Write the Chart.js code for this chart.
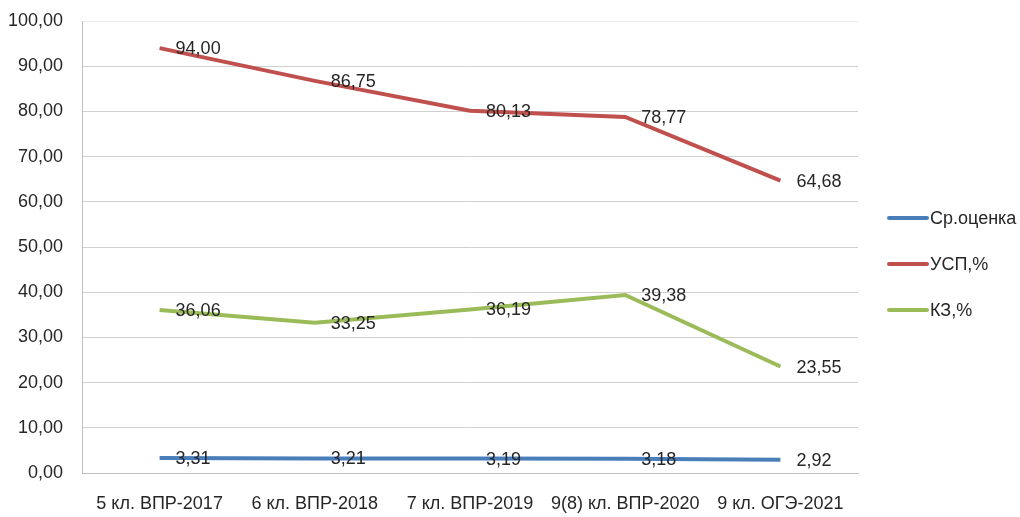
<!DOCTYPE html>
<html>
<head>
<meta charset="utf-8">
<script src="https://cdn.jsdelivr.net/npm/chart.js@4/dist/chart.umd.min.js"></script>
<style>
html,body{margin:0;padding:0;background:#fff;}
canvas{display:block;}
</style>
</head>
<body>
<canvas id="c" width="1020" height="517"></canvas>
<script>
const categories = ["5 кл. ВПР-2017", "6 кл. ВПР-2018", "7 кл. ВПР-2019", "9(8) кл. ВПР-2020", "9 кл. ОГЭ-2021"];
const seriesNames = ["Ср.оценка", "УСП,%", "КЗ,%"];
const avgScore = [3.31, 3.21, 3.19, 3.18, 2.92];
const uspPct = [94.00, 86.75, 80.13, 78.77, 64.68];
const kzPct = [36.06, 33.25, 36.19, 39.38, 23.55];
const seriesColors = ["#4a7ebb", "#c0504d", "#9bbb59"];

const FONT = "'Liberation Sans', Arial, sans-serif";
const FSIZE = 18;
const fmt = v => v.toFixed(2).replace('.', ',');

const labelPlugin = {
  id: 'valueLabels',
  afterDatasetsDraw(chart) {
    const ctx = chart.ctx;
    ctx.save();
    ctx.font = FSIZE + "px " + FONT;
    ctx.fillStyle = "#262626";
    ctx.textAlign = "left";
    ctx.textBaseline = "middle";
    chart.data.datasets.forEach((ds, i) => {
      const meta = chart.getDatasetMeta(i);
      meta.data.forEach((pt, j) => {
        ctx.fillText(fmt(ds.data[j]), pt.x + 16, pt.y + 1);
      });
    });
    ctx.restore();
  }
};

const legendPlugin = {
  id: 'customLegend',
  afterDraw(chart) {
    const ctx = chart.ctx;
    ctx.save();
    ctx.font = FSIZE + "px " + FONT;
    ctx.textBaseline = "middle";
    ctx.textAlign = "left";
    const ys = [218, 264, 310];
    chart.data.datasets.forEach((ds, i) => {
      const y = ys[i];
      ctx.strokeStyle = ds.borderColor;
      ctx.lineWidth = 4;
      ctx.lineCap = "round";
      ctx.beginPath();
      ctx.moveTo(889, y);
      ctx.lineTo(927, y);
      ctx.stroke();
      ctx.fillStyle = "#262626";
      ctx.fillText(ds.label, 930, y + 1);
    });
    ctx.restore();
  }
};

new Chart(document.getElementById('c'), {
  type: 'line',
  data: {
    labels: categories,
    datasets: [
      { label: seriesNames[0], data: avgScore, borderColor: seriesColors[0], backgroundColor: seriesColors[0] },
      { label: seriesNames[1], data: uspPct, borderColor: seriesColors[1], backgroundColor: seriesColors[1] },
      { label: seriesNames[2], data: kzPct, borderColor: seriesColors[2], backgroundColor: seriesColors[2] }
    ]
  },
  options: {
    responsive: false,
    animation: false,
    devicePixelRatio: 1,
    layout: { padding: { top: 21, right: 162, left: 0, bottom: 0 } },
    elements: {
      line: { borderWidth: 4, tension: 0, borderCapStyle: 'butt' },
      point: { radius: 0, hoverRadius: 0 }
    },
    plugins: {
      legend: { display: false },
      tooltip: { enabled: false }
    },
    scales: {
      x: {
        offset: true,
        grid: { display: false, drawTicks: false, offset: true },
        border: { color: '#bfbfbf', width: 1 },
        ticks: { color: '#262626', font: { family: FONT, size: FSIZE }, padding: 20, maxRotation: 0, autoSkip: false },
        afterFit(scale) { scale.height = 44; scale.paddingLeft = 0; scale.paddingRight = 0; }
      },
      y: {
        min: 0, max: 100,
        grid: { color: ctx => ctx.tick && ctx.tick.value === 100 ? '#ececec' : '#d0d0d0', lineWidth: 1, drawTicks: false },
        border: { color: '#bfbfbf', width: 1 },
        ticks: { stepSize: 10, color: '#262626', font: { family: FONT, size: FSIZE }, padding: 19, callback: v => fmt(v) },
        afterFit(scale) { scale.width = 82; scale.paddingTop = 0; scale.paddingBottom = 0; }
      }
    }
  },
  plugins: [labelPlugin, legendPlugin]
});
</script>
</body>
</html>
